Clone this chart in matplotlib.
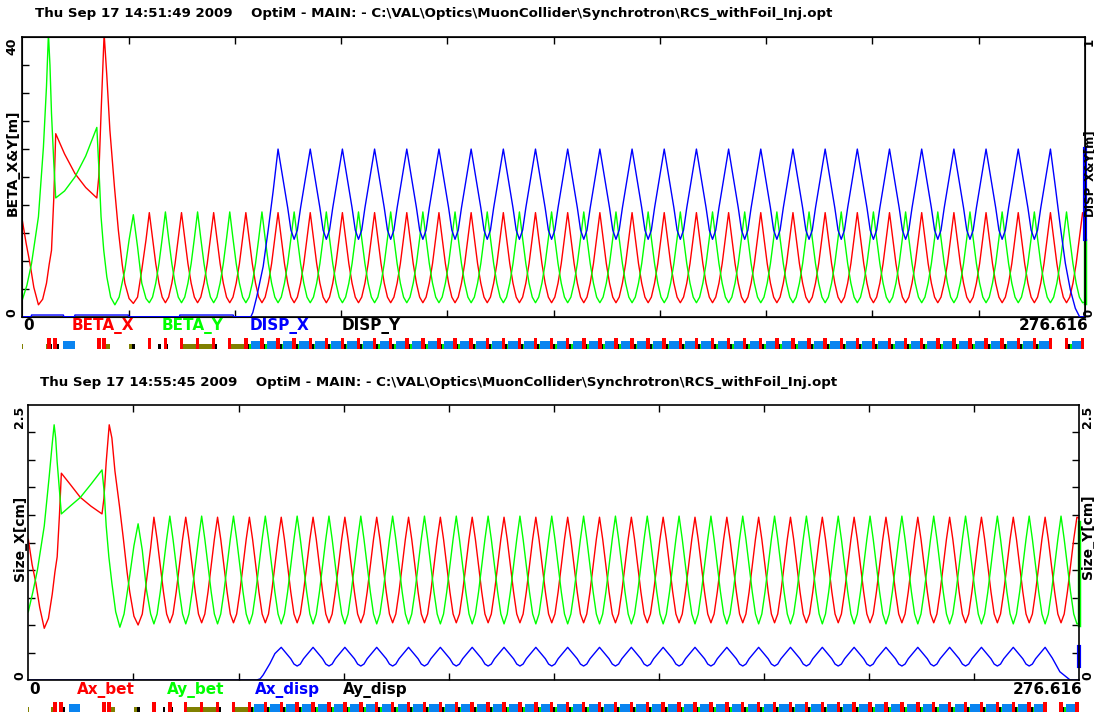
import matplotlib
matplotlib.use("Agg")
import matplotlib.pyplot as plt
from matplotlib.patches import Rectangle

W, H = 1094, 713
S_END = 276.616

# s (m) of the beta_x maxima in the periodic arc
cell_peaks = [33.06, 41.44, 49.81, 58.19, 66.57, 74.95, 83.32, 91.70, 100.08,
              108.45, 116.83, 125.21, 133.58, 141.96, 150.34, 158.72, 167.09,
              175.47, 183.85, 192.22, 200.60, 208.98, 217.35, 225.73, 234.11,
              242.49, 250.86, 259.24, 267.62, 275.99]

# one arc cell, read from a beta_x maximum to the next one
cell_frac = [0.0, 0.1, 0.2, 0.3, 0.4, 0.5, 0.6, 0.7, 0.8, 0.9]
betx_cell = [14.9, 11.2, 7.6, 4.8, 2.8, 2.0, 2.8, 4.8, 7.6, 11.2]
bety_cell = [2.0, 2.8, 4.8, 7.6, 11.2, 15.0, 11.2, 7.6, 4.8, 2.8]
dispx_cell = [0.60, 0.53, 0.46, 0.39, 0.31, 0.277, 0.31, 0.39, 0.46, 0.53]
axbet_cell = [1.48, 1.28, 1.04, 0.80, 0.60, 0.52, 0.60, 0.80, 1.04, 1.28]
aybet_cell = [0.51, 0.60, 0.80, 1.04, 1.28, 1.49, 1.28, 1.04, 0.80, 0.60]
axdisp_cell = [0.297, 0.262, 0.228, 0.193, 0.145, 0.127, 0.145, 0.193, 0.228, 0.262]

# injection straight (before the first arc cell)
betx_inj_s = [0, 1.0, 2.0, 3.0, 4.2, 5.3, 6.3, 7.0, 7.6, 8.2, 8.7, 11.0, 13.7,
              16.5, 19.4, 19.9, 20.5, 21.3, 22.0, 22.8, 24.0, 25.0, 26.0, 26.7,
              27.8, 28.9, 30.0, 31.1, 32.2]
betx_inj = [13.8, 10.5, 7.6, 4.2, 1.7, 2.5, 4.8, 7.5, 9.5, 17.0, 26.2, 23.3,
            20.5, 18.5, 17.0, 20.0, 29.1, 40.5, 34.5, 26.7, 18.5, 12.4, 7.5,
            4.8, 2.6, 1.9, 2.8, 6.7, 11.0]
bety_inj_s = [0, 1.2, 2.4, 4.2, 5.5, 6.3, 6.8, 7.2, 7.6, 8.2, 8.7, 11.0, 13.7,
              16.5, 19.4, 20.0, 20.5, 21.2, 22.0, 23.0, 24.1, 25.2, 26.7, 27.8,
              28.9, 30.0, 31.1, 32.2]
bety_inj = [2.4, 4.5, 7.6, 14.3, 24.3, 33.0, 40.5, 36.0, 29.1, 22.0, 17.0,
            18.0, 20.0, 23.0, 27.1, 20.5, 14.3, 9.5, 5.7, 2.8, 1.7, 2.8, 6.7,
            11.0, 14.6, 10.0, 4.8, 2.6]
dispx_inj_s = [0, 2.3, 2.4, 10.7, 10.8, 13.6, 13.7, 27.6, 27.7, 40.9, 41.0,
               54.9, 55.0, 59.5, 60.0, 61.0, 62.7, 64.0, 65.3]
dispx_inj = [0, 0, 0.006, 0.006, 0, 0, 0.006, 0.006, 0, 0, 0.006, 0.006, 0,
             0, 0.015, 0.07, 0.18, 0.31, 0.45]
dispx_end_s = [268.9, 270.2, 271.5, 272.8, 274.1, 275.2, S_END]
dispx_end = [0.465, 0.322, 0.191, 0.096, 0.03, 0.0, 0.0]

axbet_inj = [1.28, 1.05, 0.88, 0.66, 0.47, 0.56, 0.78, 0.98, 1.12, 1.50, 1.88,
             1.78, 1.66, 1.58, 1.51, 1.65, 1.98, 2.32, 2.20, 1.90, 1.58, 1.29,
             0.98, 0.80, 0.58, 0.50, 0.60, 0.90, 1.20]
aybet_inj = [0.62, 0.80, 1.00, 1.40, 1.85, 2.15, 2.32, 2.20, 1.98, 1.72, 1.51,
             1.58, 1.66, 1.78, 1.91, 1.70, 1.40, 1.12, 0.88, 0.62, 0.48, 0.60,
             0.95, 1.22, 1.42, 1.18, 0.82, 0.60]
axdisp_inj_s = [0, 60.1, 61.0, 61.8, 63.6, 64.9]
axdisp_inj = [0, 0, 0.01, 0.045, 0.15, 0.24]
axdisp_end_s = [269.5, 271.5, 273.3, 274.2, S_END]
axdisp_end = [0.20, 0.075, 0.025, 0.0, 0.0]

# non periodic elements of the injection straight
elem_start = [0.0, 6.1, 6.5, 7.2, 8.1, 9.0, 10.7, 12.9, 19.4, 20.1, 20.8, 21.7,
              27.85, 28.6, 35.4, 37.3, 41.75, 45.8, 50.15, 54.3]
elem_end = [0.3, 6.8, 7.5, 7.65, 9.1, 9.55, 13.7, 13.1, 20.5, 20.5, 21.8, 22.8,
            28.9, 29.3, 36.0, 38.0, 45.4, 49.7, 50.75, 58.4]
elem_kind = ["O", "O", "Q", "K", "Q", "K", "B", "K", "Q", "K", "Q", "O",
             "O", "K", "K", "K", "O", "O", "K", "O"]
first_bend_quad = 58.19
no_bend_after = 267.62

ELEM_STYLE = {"Q": ("#ff0000", 1.0), "B": ("#0a84f0", 0.73),
              "O": ("#808000", 0.45), "K": ("#000000", 0.45),
              "G": ("#00ee00", 0.45)}
ELEM_ORDER = ["O", "G", "K", "B", "Q"]


def build(inj_s, inj_v, cell_v, end_s, end_v, first=0, last=None):
    s, v = list(inj_s), list(inj_v)
    peaks = cell_peaks[first:last]
    for a, b in zip(peaks[:-1], peaks[1:]):
        for f, val in zip(cell_frac, cell_v):
            s.append(a + f * (b - a))
            v.append(val)
    s.append(peaks[-1])
    v.append(cell_v[0])
    return s + list(end_s), v + list(end_v)


def lattice():
    mids = [(a + b) / 2 for a, b in zip(cell_peaks[:-1], cell_peaks[1:])]
    quads = sorted(cell_peaks + mids)
    out = list(zip(elem_start, elem_end, elem_kind))
    for q, qn in zip(quads[:-1], quads[1:]):
        if q >= first_bend_quad - 0.01 and abs(q - no_bend_after) > 0.01:
            out.append((q + 0.45, q + 0.9, "K"))
            out.append((q + 0.9, q + 1.3, "G"))
            out.append((q + 1.3, qn - 0.45, "B"))
    for q in quads:
        out.append((q - 0.45, q + 0.45, "Q"))
    return out


def px_rect(x0, y0, x1, y1):
    return [x0 / W, 1 - y1 / H, (x1 - x0) / W, (y1 - y0) / H]


def draw_lattice(fig, rect):
    ax = fig.add_axes(rect)
    ax.set_xlim(0, S_END)
    ax.set_ylim(0, 1)
    ax.axis("off")
    elems = lattice()
    for kind in ELEM_ORDER:
        color, h = ELEM_STYLE[kind]
        for s0, s1, k in elems:
            if k == kind:
                ax.add_patch(Rectangle((s0, 0), s1 - s0, h, color=color, lw=0))


def style_axes(ax, ymax, ystep):
    ax.set_xlim(0, S_END)
    ax.set_ylim(0, ymax)
    ax.set_xticks([S_END * k / 10 for k in range(1, 10)])
    ax.set_yticks([ystep * k for k in range(1, round(ymax / ystep))])
    ax.tick_params(direction="in", length=5, width=1, top=True, right=True,
                   labelbottom=False, labelleft=False)
    for sp in ax.spines.values():
        sp.set_linewidth(1.2)


def ftext(x, y, s, **kw):
    kw.setdefault("fontweight", "bold")
    kw.setdefault("family", "DejaVu Sans")
    fig.text(x / W, 1 - y / H, s, **kw)


fig = plt.figure(figsize=(W / 100, H / 100), dpi=100)
LW = 1.0
NUM = 9
path = "OptiM - MAIN: - C:\\VAL\\Optics\\MuonCollider\\Synchrotron\\RCS_withFoil_Inj.opt"

# ---- top panel: beta functions and dispersion
ax1 = fig.add_axes(px_rect(22.3, 37.3, 1085, 316.7))
style_axes(ax1, 40, 4)
sx, vx = build(betx_inj_s, betx_inj, betx_cell, [S_END], [14.6])
sy, vy = build(bety_inj_s, bety_inj, bety_cell, [S_END], [2.1])
ax1.plot(sx, vx, color="#ff0000", lw=LW)
ax1.plot(sy, vy, color="#00ff00", lw=LW)
ax1.plot([S_END, S_END], [2.0, 11.0], color="#00ff00", lw=2.5, clip_on=False)
ax1b = ax1.twinx()
ax1b.set_ylim(0, 1)
ax1b.tick_params(right=False, labelright=False)
sd, vd = build(dispx_inj_s, dispx_inj, dispx_cell, dispx_end_s, dispx_end,
               first=4, last=29)
ax1b.plot(sd, vd, color="#0000ff", lw=LW)
ax1b.plot([S_END, S_END], [0.277, 0.60], color="#0000ff", lw=3, clip_on=False)
draw_lattice(fig, px_rect(22.3, 338, 1085, 349))

ftext(35, 14, "Thu Sep 17 14:51:49 2009    " + path, fontsize=9.6, va="center")
ftext(12, 37.7, "40", fontsize=NUM, rotation=90, ha="center", va="top")
ftext(12, 316.7, "0", fontsize=NUM, rotation=90, ha="center", va="bottom")
ftext(13, 163, "BETA_X&Y[m]", fontsize=10, rotation=90, ha="center", va="center")
ftext(1089, 37.7, "1", fontsize=8.5, rotation=90, ha="center", va="top")
ftext(1089, 316.7, "0", fontsize=8.5, rotation=90, ha="center", va="bottom")
ftext(1089, 172, "DISP_X&Y[m]", fontsize=8.5, rotation=90, ha="center", va="center")
ftext(23, 325.5, "0", fontsize=11, va="center")
ftext(72, 325.5, "BETA_X", fontsize=11, va="center", color="#ff0000")
ftext(162, 325.5, "BETA_Y", fontsize=11, va="center", color="#00ff00")
ftext(250, 325.5, "DISP_X", fontsize=11, va="center", color="#0000ff")
ftext(342, 325.5, "DISP_Y", fontsize=11, va="center", color="#000000")
ftext(1088, 325.5, "276.616", fontsize=11, va="center", ha="right")

# ---- bottom panel: beam sizes
ax2 = fig.add_axes(px_rect(28.3, 405, 1079.3, 680))
style_axes(ax2, 2.5, 0.25)
sx, vx = build(betx_inj_s, axbet_inj, axbet_cell, [S_END], [1.47])
sy, vy = build(bety_inj_s, aybet_inj, aybet_cell, [S_END], [0.52])
sd, vd = build(axdisp_inj_s, axdisp_inj, axdisp_cell, axdisp_end_s, axdisp_end,
               first=4, last=29)
ax2.plot(sx, vx, color="#ff0000", lw=LW)
ax2.plot(sy, vy, color="#00ff00", lw=LW)
ax2.plot(sd, vd, color="#0000ff", lw=LW)
ax2.plot([S_END, S_END], [0.50, 1.44], color="#00ff00", lw=2.5, clip_on=False)
ax2.plot([S_END, S_END], [0.127, 0.297], color="#0000ff", lw=3, clip_on=False)
draw_lattice(fig, px_rect(28.3, 701.7, 1079.3, 711.7))

ftext(40, 383, "Thu Sep 17 14:55:45 2009    " + path, fontsize=9.6, va="center")
ftext(20, 405.5, "2.5", fontsize=NUM, rotation=90, ha="center", va="top")
ftext(20, 680, "0", fontsize=NUM, rotation=90, ha="center", va="bottom")
ftext(20, 538, "Size_X[cm]", fontsize=10, rotation=90, ha="center", va="center")
ftext(1087.5, 405.5, "2.5", fontsize=NUM, rotation=90, ha="center", va="top")
ftext(1087.5, 680, "0", fontsize=NUM, rotation=90, ha="center", va="bottom")
ftext(1087.5, 537, "Size_Y[cm]", fontsize=10, rotation=90, ha="center", va="center")
ftext(29, 690, "0", fontsize=11, va="center")
ftext(77, 690, "Ax_bet", fontsize=11, va="center", color="#ff0000")
ftext(167, 690, "Ay_bet", fontsize=11, va="center", color="#00ff00")
ftext(255, 690, "Ax_disp", fontsize=11, va="center", color="#0000ff")
ftext(343, 690, "Ay_disp", fontsize=11, va="center", color="#000000")
ftext(1083, 690, "276.616", fontsize=11, va="center", ha="right")

fig.savefig("out.png", dpi=100)
